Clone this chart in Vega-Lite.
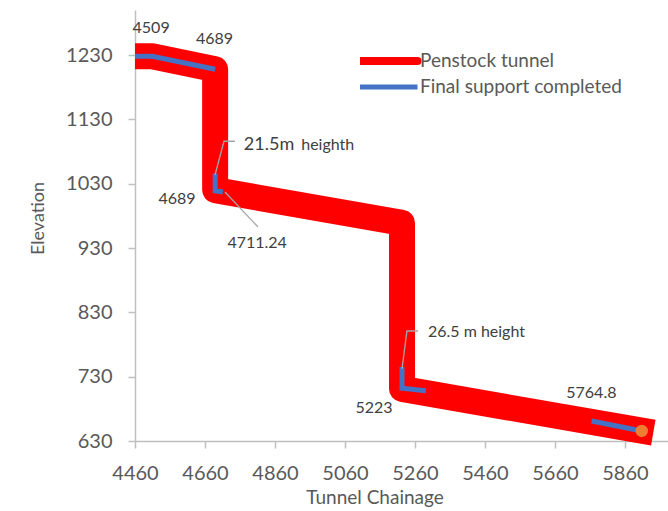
{
  "$schema": "https://vega.github.io/schema/vega-lite/v6.json",
  "width": 533,
  "height": 431,
  "autosize": {"type": "none"},
  "padding": {"left": 135, "top": 10, "right": 0, "bottom": 70},
  "background": "white",
  "config": {
    "view": {"stroke": null},
    "font": "Lato",
    "axis": {
      "grid": false,
      "domainColor": "#bfbfbf",
      "domainWidth": 1.5,
      "tickColor": "#bfbfbf",
      "tickWidth": 1.5,
      "tickSize": 7,
      "labelFontSize": 20,
      "labelColor": "#595959",
      "labelFlush": false,
      "labelOverlap": false,
      "titleColor": "#595959",
      "titleFontWeight": "normal",
      "titleBaseline": "alphabetic",
      "titleAlign": "center"
    }
  },
  "datasets": {
    "tunnel": [
      {"i": 1, "x": 4460, "y": 1228, "series": "Penstock tunnel"},
      {"i": 2, "x": 4509, "y": 1228, "series": "Penstock tunnel"},
      {"i": 3, "x": 4689, "y": 1208, "series": "Penstock tunnel"},
      {"i": 4, "x": 4689, "y": 1020, "series": "Penstock tunnel"},
      {"i": 5, "x": 5223, "y": 969, "series": "Penstock tunnel"},
      {"i": 6, "x": 5223, "y": 711, "series": "Penstock tunnel"},
      {"i": 7, "x": 5941, "y": 643, "series": "Penstock tunnel"}
    ],
    "support": [
      {"seg": 1, "i": 1, "x": 4460, "y": 1228, "series": "Final support completed"},
      {"seg": 1, "i": 2, "x": 4509, "y": 1228, "series": "Final support completed"},
      {"seg": 1, "i": 3, "x": 4689, "y": 1208, "series": "Final support completed"},
      {"seg": 2, "i": 1, "x": 4689, "y": 1046, "series": "Final support completed"},
      {"seg": 2, "i": 2, "x": 4689, "y": 1019, "series": "Final support completed"},
      {"seg": 2, "i": 3, "x": 4711.24, "y": 1017, "series": "Final support completed"},
      {"seg": 3, "i": 1, "x": 5223, "y": 745, "series": "Final support completed"},
      {"seg": 3, "i": 2, "x": 5223, "y": 712, "series": "Final support completed"},
      {"seg": 3, "i": 3, "x": 5291, "y": 708, "series": "Final support completed"},
      {"seg": 4, "i": 1, "x": 5764.8, "y": 661, "series": "Final support completed"},
      {"seg": 4, "i": 2, "x": 5908, "y": 645.6, "series": "Final support completed"}
    ],
    "endpoint": [
      {"x": 5908, "y": 645.6}
    ],
    "leaders": [
      {"g": 1, "i": 1, "x": 4745.7, "y": 1096},
      {"g": 1, "i": 2, "x": 4714.3, "y": 1096},
      {"g": 1, "i": 3, "x": 4688.6, "y": 1043.5},
      {"g": 2, "i": 1, "x": 4717, "y": 1017},
      {"g": 2, "i": 2, "x": 4811, "y": 963},
      {"g": 3, "i": 1, "x": 5268.6, "y": 801},
      {"g": 3, "i": 2, "x": 5237, "y": 801},
      {"g": 3, "i": 3, "x": 5223, "y": 742}
    ],
    "labels": [
      {"t": "4509", "x": 4506, "y": 1272},
      {"t": "4689", "x": 4687, "y": 1255},
      {"t": "4689", "x": 4580, "y": 1006},
      {"t": "4711.24", "x": 4809, "y": 938},
      {"t": "5223", "x": 5143, "y": 682},
      {"t": "5764.8", "x": 5764, "y": 705}
    ],
    "calloutBig": [
      {"t": "21.5m", "x": 4771, "y": 1082.4}
    ],
    "calloutSmall": [
      {"t": "heighth", "x": 4935, "y": 1082.4},
      {"t": "26.5 m height", "x": 5297, "y": 791.7}
    ]
  },
  "encoding": {
    "x": {
      "field": "x",
      "type": "quantitative",
      "scale": {"domain": [4460, 5983], "nice": false, "zero": false},
      "axis": {
        "values": [4460, 4660, 4860, 5060, 5260, 5460, 5660, 5860],
        "format": "d",
        "title": "Tunnel Chainage",
        "titleFontSize": 19,
        "labelPadding": 15,
        "titleX": 239.5,
        "titleY": 62
      }
    },
    "y": {
      "field": "y",
      "type": "quantitative",
      "scale": {"domain": [630, 1300], "nice": false, "zero": false},
      "axis": {
        "values": [630, 730, 830, 930, 1030, 1130, 1230],
        "format": "d",
        "title": "Elevation",
        "titleFontSize": 18,
        "labelPadding": 16,
        "titleX": -92,
        "titleY": 208
      }
    }
  },
  "layer": [
    {
      "data": {"name": "tunnel"},
      "mark": {"type": "line", "strokeWidth": 26, "strokeJoin": "round", "strokeCap": "butt"},
      "encoding": {
        "order": {"field": "i", "type": "quantitative"},
        "color": {
          "field": "series",
          "type": "nominal",
          "scale": {"domain": ["Penstock tunnel", "Final support completed"], "range": ["#ff0000", "#4472c4"]},
          "legend": {
            "orient": "none",
            "legendX": 225,
            "legendY": 38,
            "title": null,
            "padding": 0,
            "symbolType": "stroke",
            "symbolSize": 3364,
            "symbolOffset": 19,
            "clipHeight": 26,
            "rowPadding": 0,
            "labelFontSize": 19,
            "labelColor": "#595959",
            "labelOffset": 22,
            "labelLimit": 400,
            "encode": {
              "symbols": {
                "update": {
                  "strokeWidth": {"signal": "datum.value === 'Penstock tunnel' ? 8 : 5"},
                  "strokeCap": {"signal": "datum.value === 'Penstock tunnel' ? 'round' : 'butt'"}
                }
              }
            }
          }
        }
      }
    },
    {
      "data": {"name": "support"},
      "mark": {"type": "line", "strokeWidth": 5, "strokeCap": "butt", "strokeJoin": "miter"},
      "encoding": {
        "order": {"field": "i", "type": "quantitative"},
        "detail": {"field": "seg", "type": "nominal"},
        "color": {"field": "series", "type": "nominal"}
      }
    },
    {
      "data": {"name": "endpoint"},
      "mark": {"type": "circle", "size": 154, "color": "#ed7d31", "opacity": 1},
      "encoding": {}
    },
    {
      "data": {"name": "leaders"},
      "mark": {"type": "line", "color": "#a6a6a6", "strokeWidth": 1.3},
      "encoding": {
        "order": {"field": "i", "type": "quantitative"},
        "detail": {"field": "g", "type": "nominal"}
      }
    },
    {
      "data": {"name": "labels"},
      "mark": {"type": "text", "fontSize": 16, "color": "#404040", "align": "center", "baseline": "middle"},
      "encoding": {"text": {"field": "t"}}
    },
    {
      "data": {"name": "calloutBig"},
      "mark": {"type": "text", "fontSize": 18, "color": "#404040", "align": "left", "baseline": "alphabetic"},
      "encoding": {"text": {"field": "t"}}
    },
    {
      "data": {"name": "calloutSmall"},
      "mark": {"type": "text", "fontSize": 16, "color": "#404040", "align": "left", "baseline": "alphabetic"},
      "encoding": {"text": {"field": "t"}}
    }
  ]
}
